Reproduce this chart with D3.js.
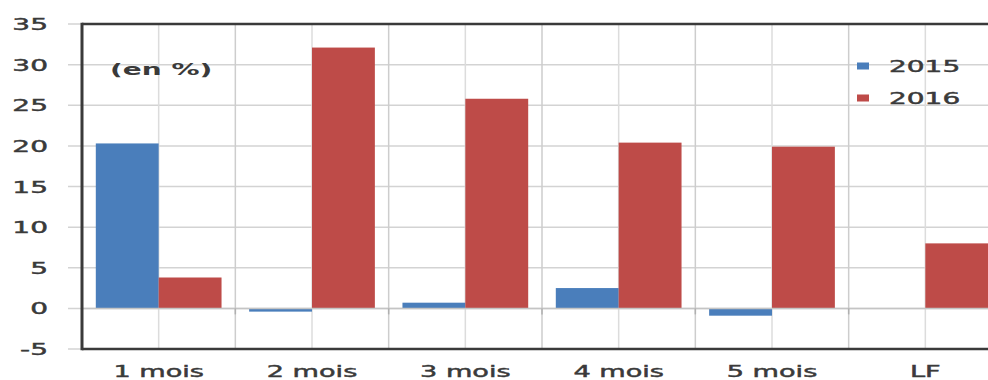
<!DOCTYPE html>
<html>
<head>
<meta charset="utf-8">
<script src="https://cdn.jsdelivr.net/npm/d3@7"></script>
<style>
  html, body { margin: 0; padding: 0; background: #fff; }
  svg { display: block; }
  text { font-family: "DejaVu Sans", Verdana, sans-serif; fill: #3a3a3a; }
  text.reg { stroke: #3a3a3a; stroke-width: 0.45px; }
</style>
</head>
<body>
<svg id="chart" width="988" height="380"></svg>
<script>
// Horizons de prévision et variation (en %) par année
const categories = ["1 mois", "2 mois", "3 mois", "4 mois", "5 mois", "LF"];
const seriesNames = ["2015", "2016"];
const values2015 = [20.3, -0.4, 0.7, 2.5, -0.9, null];
const values2016 = [3.8, 32.1, 25.8, 20.4, 19.9, 8.0];
const yTicks = [-5, 0, 5, 10, 15, 20, 25, 30, 35];
const unitLabel = "(en %)";

const colors = { "2015": "#4a7ebb", "2016": "#be4b48" };
const stretch = 1.75; // horizontal text stretch

const svg = d3.select("#chart");
const plotLeft = 82, plotRight = 1002, plotTop = 24, plotBottom = 349;

const x0 = d3.scaleBand().domain(categories).range([plotLeft, plotRight])
  .paddingInner(0.18).paddingOuter(0.09);
const step = x0.step();
const x1 = d3.scaleBand().domain(seriesNames).range([0, x0.bandwidth()]);
const y = d3.scaleLinear().domain([-5, 35]).range([plotBottom, plotTop]);

// horizontal gridlines with left tick marks
svg.append("g").selectAll("line").data(yTicks).join("line")
  .attr("x1", plotLeft - 14).attr("x2", 988)
  .attr("y1", d => y(d)).attr("y2", d => y(d))
  .attr("stroke", "#d3d3d3").attr("stroke-width", 1.5);

// vertical gridlines at category boundaries and centres
const vLines = [];
categories.forEach(c => {
  vLines.push({ x: x0(c) - x0.paddingOuter() * step, major: true });
  vLines.push({ x: x0(c) + x0.bandwidth() / 2, major: false });
});
svg.append("g").selectAll("line").data(vLines).join("line")
  .attr("x1", d => d.x).attr("x2", d => d.x)
  .attr("y1", plotTop).attr("y2", plotBottom)
  .attr("stroke", d => d.major ? "#cdcdcd" : "#dcdcdc").attr("stroke-width", 1.5);

// bars
const rows = categories.map((c, i) => ({ c, vals: [
  { s: "2015", v: values2015[i] }, { s: "2016", v: values2016[i] }
]}));
svg.append("g").selectAll("g").data(rows).join("g")
  .attr("transform", d => `translate(${x0(d.c)},0)`)
  .selectAll("rect").data(d => d.vals.filter(e => e.v !== null)).join("rect")
  .attr("x", d => x1(d.s)).attr("width", x1.bandwidth())
  .attr("y", d => y(Math.max(0, d.v)))
  .attr("height", d => Math.abs(y(d.v) - y(0)))
  .attr("fill", d => colors[d.s]);

// zero line with category ticks
svg.append("line").attr("x1", plotLeft).attr("x2", 988)
  .attr("y1", y(0)).attr("y2", y(0))
  .attr("stroke", "#c4c4c4").attr("stroke-width", 1.5);
svg.append("g").selectAll("line").data(vLines.filter(d => d.major)).join("line")
  .attr("x1", d => d.x).attr("x2", d => d.x)
  .attr("y1", y(0)).attr("y2", y(0) + 6)
  .attr("stroke", "#b0b0b0").attr("stroke-width", 1.5);

// frame
svg.append("line").attr("x1", plotLeft).attr("x2", 988).attr("y1", plotTop).attr("y2", plotTop)
  .attr("stroke", "#3a3a3a").attr("stroke-width", 2.5);
svg.append("line").attr("x1", plotLeft).attr("x2", 988).attr("y1", plotBottom).attr("y2", plotBottom)
  .attr("stroke", "#3a3a3a").attr("stroke-width", 2.5);
svg.append("line").attr("x1", plotLeft).attr("x2", plotLeft).attr("y1", plotTop - 1.2).attr("y2", plotBottom + 1.2)
  .attr("stroke", "#3a3a3a").attr("stroke-width", 3);

// stretched text helper
function label(parent, x, yy, txt, anchor, opts = {}) {
  const g = parent.append("g").attr("transform", `translate(${x},${yy}) scale(${stretch},1)`);
  g.append("text").attr("text-anchor", anchor)
    .attr("class", opts.weight ? null : "reg")
    .attr("font-size", opts.size || 16)
    .attr("font-weight", opts.weight || "normal")
    .text(txt);
}

// y tick labels
const yl = svg.append("g");
yTicks.forEach(t => label(yl, 48, y(t) + 6, t, "end"));

// x category labels
const xl = svg.append("g");
categories.forEach(c => label(xl, x0(c) + x0.bandwidth() / 2, 377, c, "middle", { size: 15.5 }));

// unit label
label(svg, 110, 75, unitLabel, "start", { weight: "bold" });

// legend
const lg = svg.append("g");
seriesNames.forEach((s, i) => {
  const ly = 66 + i * 32;
  lg.append("rect").attr("x", 857).attr("y", ly - 3.5).attr("width", 12).attr("height", 7)
    .attr("fill", colors[s]);
  label(lg, 889, ly + 6, s, "start");
});
</script>
</body>
</html>
